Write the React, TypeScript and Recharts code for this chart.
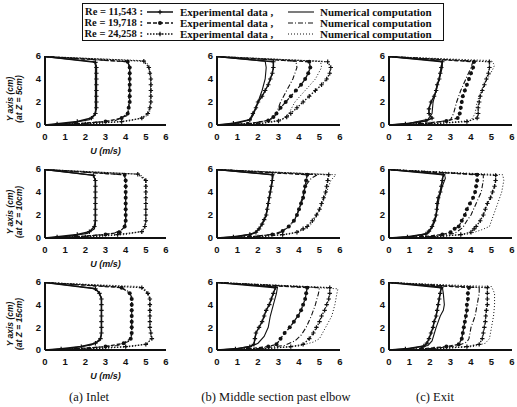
import React from 'react';
import { LineChart, Line, XAxis, YAxis } from 'recharts';

type Pt = [number, number]; // [U (m/s), Y (cm)]

const TICKS = [0, 1, 2, 3, 4, 5, 6];
const RE_LABELS = ['Re = 11,543 :', 'Re = 19,718 :', 'Re = 24,258 :'];
const Z_LABELS = ['(at Z = 5cm)', '(at Z = 10cm)', '(at Z = 15cm)'];
const CAPTIONS = ['(a) Inlet', '(b) Middle section past elbow', '(c) Exit'];

// ---- inlet, Z = 5 cm
const inlet5Exp1: Pt[] = [[0, 0], [0.6, 0.1], [1.6, 0.3], [2.3, 0.6], [2.5, 1], [2.55, 1.5], [2.55, 2], [2.55, 2.5], [2.55, 3], [2.55, 3.5], [2.55, 4], [2.55, 4.5], [2.55, 5], [2.5, 5.45], [0, 5.95]];
const inlet5Num1: Pt[] = [[0, 0], [1.2, 0.15], [2.2, 0.45], [2.45, 0.8], [2.5, 1.2], [2.5, 5.2], [2.45, 5.5], [0, 5.95]];
const inlet5Exp2: Pt[] = [[0, 0], [1.5, 0.1], [3.0, 0.3], [3.8, 0.6], [4.1, 1], [4.15, 1.5], [4.2, 2], [4.2, 2.5], [4.2, 3], [4.2, 3.5], [4.2, 4], [4.2, 4.5], [4.2, 5], [4.1, 5.5], [0, 5.95]];
const inlet5Num2: Pt[] = [[0, 0], [2.0, 0.15], [3.5, 0.4], [4.05, 0.8], [4.15, 1.2], [4.2, 5.1], [4.1, 5.5], [0, 5.95]];
const inlet5Exp3: Pt[] = [[0, 0], [2.0, 0.1], [3.8, 0.3], [4.8, 0.6], [5.1, 1], [5.2, 1.5], [5.25, 2], [5.25, 2.5], [5.25, 3], [5.25, 3.5], [5.25, 4], [5.2, 4.5], [5.15, 5], [4.9, 5.55], [0, 5.95]];
const inlet5Num3: Pt[] = [[0, 0], [2.5, 0.12], [4.2, 0.35], [5.0, 0.7], [5.2, 1.2], [5.25, 4.5], [5.1, 5.3], [4.8, 5.6], [0, 5.95]];

// ---- inlet, Z = 10 cm
const inlet10Exp1: Pt[] = [[0, 0], [0.6, 0.1], [1.6, 0.3], [2.2, 0.55], [2.45, 1], [2.5, 1.5], [2.5, 2], [2.5, 2.5], [2.5, 3], [2.5, 3.5], [2.5, 4], [2.5, 4.5], [2.5, 5], [2.4, 5.45], [0, 5.95]];
const inlet10Num1: Pt[] = [[0, 0], [1.2, 0.15], [2.1, 0.4], [2.45, 0.8], [2.5, 1.2], [2.5, 5.0], [2.4, 5.45], [0, 5.95]];
const inlet10Exp2: Pt[] = [[0, 0], [1.5, 0.1], [3.0, 0.3], [3.7, 0.5], [3.95, 1], [4.0, 1.5], [4.0, 2], [4.0, 2.5], [4.0, 3], [4.0, 3.5], [4.0, 4], [4.0, 4.5], [4.0, 5], [3.95, 5.5], [0, 5.95]];
const inlet10Num2: Pt[] = [[0, 0], [2.0, 0.15], [3.4, 0.4], [3.9, 0.8], [4.0, 1.2], [4.0, 5.1], [3.9, 5.5], [0, 5.95]];
const inlet10Exp3: Pt[] = [[0, 0], [2.0, 0.1], [3.6, 0.3], [4.8, 0.55], [4.95, 1], [5.0, 1.5], [5.0, 2], [5.0, 2.5], [5.0, 3], [5.0, 3.5], [5.0, 4], [5.0, 4.5], [5.0, 5], [4.6, 5.55], [0, 5.95]];
const inlet10Num3: Pt[] = [[0, 0], [2.5, 0.12], [4.0, 0.3], [4.85, 0.6], [5.0, 1.2], [5.0, 5.1], [4.7, 5.55], [0, 5.95]];

// ---- inlet, Z = 15 cm
const inlet15Exp1: Pt[] = [[0, 0], [0.8, 0.1], [1.8, 0.3], [2.5, 0.6], [2.75, 1], [2.8, 1.5], [2.8, 2], [2.8, 2.5], [2.8, 3], [2.8, 3.5], [2.8, 4], [2.8, 4.5], [2.7, 5], [2.5, 5.4], [0, 5.95]];
const inlet15Num1: Pt[] = [[0, 0], [1.3, 0.15], [2.3, 0.45], [2.7, 0.8], [2.8, 1.3], [2.8, 4.6], [2.65, 5.15], [2.4, 5.45], [0, 5.95]];
const inlet15Exp2: Pt[] = [[0, 0], [1.5, 0.1], [3.0, 0.3], [3.9, 0.6], [4.25, 1], [4.3, 1.5], [4.3, 2], [4.3, 2.5], [4.3, 3], [4.3, 3.5], [4.3, 4], [4.3, 4.5], [4.2, 5], [3.8, 5.5], [0, 5.95]];
const inlet15Num2: Pt[] = [[0, 0], [2.0, 0.15], [3.6, 0.4], [4.2, 0.8], [4.3, 1.3], [4.3, 4.7], [4.1, 5.2], [3.7, 5.55], [0, 5.95]];
const inlet15Exp3: Pt[] = [[0, 0], [2.2, 0.1], [4.0, 0.3], [5.0, 0.5], [5.3, 1], [5.25, 1.5], [5.2, 2], [5.2, 2.5], [5.2, 3], [5.2, 3.5], [5.2, 4], [5.2, 4.5], [5.1, 5], [4.8, 5.5], [0, 5.95]];
const inlet15Num3: Pt[] = [[0, 0], [2.6, 0.12], [4.3, 0.3], [5.1, 0.55], [5.25, 1.1], [5.2, 4.6], [5.0, 5.3], [4.7, 5.6], [0, 5.95]];

// ---- middle section past elbow, Z = 5 cm
const mid5Exp1: Pt[] = [[0, 0], [0.8, 0.15], [1.6, 0.45], [1.75, 1], [1.9, 1.5], [2.0, 2], [2.2, 2.5], [2.35, 3], [2.5, 3.5], [2.6, 4], [2.7, 4.5], [2.75, 5], [2.75, 5.5], [0, 5.95]];
const mid5Num1: Pt[] = [[0, 0], [1.0, 0.15], [1.65, 0.5], [1.8, 1], [2.0, 2], [2.2, 3], [2.35, 4], [2.4, 5], [2.35, 5.55], [0, 5.95]];
const mid5Exp2: Pt[] = [[0, 0], [1.5, 0.1], [2.5, 0.4], [2.75, 0.7], [2.9, 1], [3.1, 1.5], [3.35, 2], [3.6, 2.5], [3.85, 3], [4.1, 3.5], [4.3, 4], [4.45, 4.5], [4.55, 5], [4.5, 5.5], [0, 5.95]];
const mid5Num2: Pt[] = [[0, 0], [1.8, 0.15], [2.7, 0.5], [2.9, 1], [3.1, 2], [3.4, 3], [3.7, 4], [3.9, 5], [3.85, 5.55], [0, 5.95]];
const mid5Exp3: Pt[] = [[0, 0], [2.0, 0.1], [3.0, 0.35], [3.4, 0.7], [3.6, 1], [3.9, 1.5], [4.2, 2], [4.5, 2.5], [4.8, 3], [5.1, 3.5], [5.35, 4], [5.5, 4.5], [5.55, 5], [5.4, 5.5], [0, 5.95]];
const mid5Num3: Pt[] = [[0, 0], [2.2, 0.15], [3.2, 0.5], [3.5, 1], [3.8, 2], [4.3, 3], [4.8, 4], [5.1, 5], [5.05, 5.55], [0, 5.95]];

// ---- middle section past elbow, Z = 10 cm
const mid10Exp1: Pt[] = [[0, 0], [0.8, 0.1], [1.6, 0.3], [1.9, 0.5], [2.05, 0.8], [2.2, 1.2], [2.3, 1.6], [2.4, 2], [2.45, 2.5], [2.5, 3], [2.55, 3.5], [2.6, 4], [2.65, 4.5], [2.7, 5], [2.7, 5.5], [0, 5.95]];
const mid10Num1: Pt[] = [[0, 0], [1.0, 0.12], [1.8, 0.4], [2.0, 0.7], [2.2, 1.2], [2.4, 2], [2.5, 3], [2.6, 4], [2.7, 5], [2.75, 5.5], [0, 5.95]];
const mid10Exp2: Pt[] = [[0, 0], [1.6, 0.1], [2.7, 0.3], [3.2, 0.6], [3.5, 1], [3.75, 1.5], [3.9, 2], [4.0, 2.5], [4.1, 3], [4.2, 3.5], [4.25, 4], [4.3, 4.5], [4.35, 5], [4.4, 5.5], [0, 5.95]];
const mid10Num2: Pt[] = [[0, 0], [1.8, 0.12], [3.0, 0.4], [3.45, 0.9], [3.8, 1.6], [4.0, 2.5], [4.15, 3.5], [4.3, 4.5], [4.6, 5.2], [4.9, 5.5], [0, 5.95]];
const mid10Exp3: Pt[] = [[0, 0], [2.0, 0.1], [3.2, 0.3], [3.9, 0.5], [4.2, 0.8], [4.4, 1], [4.65, 1.5], [4.85, 2], [5.0, 2.5], [5.1, 3], [5.2, 3.5], [5.3, 4], [5.35, 4.5], [5.4, 5], [5.45, 5.5], [0, 5.95]];
const mid10Num3: Pt[] = [[0, 0], [2.2, 0.12], [3.6, 0.35], [4.2, 0.7], [4.6, 1.2], [4.9, 2], [5.15, 3], [5.35, 4], [5.55, 5], [5.8, 5.5], [0, 5.95]];

// ---- middle section past elbow, Z = 15 cm
const mid15Exp1: Pt[] = [[0, 0], [0.9, 0.1], [1.6, 0.3], [1.8, 0.5], [1.85, 1], [1.9, 1.5], [2.05, 2], [2.2, 2.5], [2.3, 3], [2.4, 3.5], [2.55, 4], [2.65, 4.5], [2.75, 5], [2.85, 5.5], [0, 5.95]];
const mid15Num1: Pt[] = [[0, 0], [1.0, 0.12], [1.7, 0.35], [2.0, 0.6], [2.3, 1.2], [2.5, 2], [2.6, 3], [2.75, 4], [2.9, 5], [2.95, 5.55], [0, 5.95]];
const mid15Exp2: Pt[] = [[0, 0], [1.5, 0.1], [2.5, 0.3], [2.9, 0.5], [3.1, 1], [3.3, 1.5], [3.55, 2], [3.75, 2.5], [3.95, 3], [4.1, 3.5], [4.2, 4], [4.3, 4.5], [4.35, 5], [4.4, 5.5], [0, 5.95]];
const mid15Num2: Pt[] = [[0, 0], [2.0, 0.12], [3.3, 0.4], [3.8, 0.8], [4.1, 1.3], [4.35, 2], [4.6, 3], [4.8, 4], [4.95, 5], [5.0, 5.5], [0, 5.95]];
const mid15Exp3: Pt[] = [[0, 0], [2.2, 0.1], [3.6, 0.3], [4.2, 0.5], [4.5, 1], [4.7, 1.5], [4.85, 2], [5.0, 2.5], [5.1, 3], [5.25, 3.5], [5.35, 4], [5.45, 4.5], [5.5, 5], [5.5, 5.5], [0, 5.95]];
const mid15Num3: Pt[] = [[0, 0], [2.5, 0.12], [4.0, 0.35], [4.7, 0.7], [5.0, 1], [5.3, 2], [5.6, 3], [5.75, 4], [5.85, 5], [5.9, 5.4], [0, 5.95]];

// ---- exit, Z = 5 cm
const exit5Exp1: Pt[] = [[0, 0], [0.8, 0.1], [1.8, 0.35], [2.1, 0.6], [1.95, 1], [1.95, 1.4], [2.05, 2], [2.2, 2.5], [2.3, 3], [2.35, 3.5], [2.45, 4], [2.5, 4.5], [2.55, 5], [2.6, 5.5], [0, 5.95]];
const exit5Num1: Pt[] = [[0, 0], [1.0, 0.15], [1.9, 0.5], [2.1, 1], [2.15, 2], [2.3, 3], [2.45, 4], [2.6, 5], [2.6, 5.55], [0, 5.95]];
const exit5Exp2: Pt[] = [[0, 0], [1.5, 0.1], [2.8, 0.35], [3.35, 0.6], [3.45, 1], [3.5, 1.5], [3.55, 2], [3.6, 2.5], [3.7, 3], [3.8, 3.5], [3.9, 4], [4.0, 4.5], [4.1, 5], [4.15, 5.5], [0, 5.95]];
const exit5Num2: Pt[] = [[0, 0], [2.0, 0.15], [3.0, 0.45], [3.15, 1], [3.3, 2], [3.5, 3], [3.75, 4], [4.0, 5], [4.1, 5.55], [0, 5.95]];
const exit5Exp3: Pt[] = [[0, 0], [2.0, 0.1], [3.8, 0.3], [4.3, 0.6], [4.35, 1], [4.35, 1.5], [4.4, 2], [4.45, 2.5], [4.55, 3], [4.65, 3.5], [4.75, 4], [4.85, 4.5], [4.9, 5], [4.9, 5.5], [0, 5.95]];
const exit5Num3: Pt[] = [[0, 0], [2.5, 0.15], [4.0, 0.4], [4.2, 1], [4.3, 2], [4.5, 3], [4.8, 4], [5.05, 4.8], [5.15, 5.2], [5.0, 5.6], [0, 5.95]];

// ---- exit, Z = 10 cm
const exit10Exp1: Pt[] = [[0, 0], [0.9, 0.1], [1.8, 0.35], [1.95, 0.6], [2.1, 1], [2.2, 1.5], [2.3, 2], [2.33, 2.5], [2.35, 3], [2.4, 3.5], [2.5, 4], [2.55, 4.5], [2.6, 5], [2.65, 5.5], [0, 5.95]];
const exit10Num1: Pt[] = [[0, 0], [1.1, 0.12], [1.9, 0.4], [2.1, 0.9], [2.25, 1.5], [2.35, 2.5], [2.45, 3.5], [2.6, 4.5], [2.75, 5.2], [2.7, 5.55], [0, 5.95]];
const exit10Exp2: Pt[] = [[0, 0], [1.6, 0.1], [2.6, 0.3], [3.0, 0.5], [3.2, 0.8], [3.4, 1], [3.55, 1.5], [3.7, 2], [3.8, 2.5], [3.95, 3], [4.1, 3.5], [4.2, 4], [4.25, 4.5], [4.3, 5], [4.3, 5.5], [0, 5.95]];
const exit10Num2: Pt[] = [[0, 0], [2.0, 0.12], [3.2, 0.4], [3.6, 0.9], [3.8, 1.5], [4.0, 2], [4.25, 3], [4.5, 4], [4.6, 5], [4.6, 5.5], [0, 5.95]];
const exit10Exp3: Pt[] = [[0, 0], [2.2, 0.1], [3.5, 0.3], [4.0, 0.5], [4.15, 0.8], [4.25, 1], [4.45, 1.5], [4.6, 2], [4.7, 2.5], [4.8, 3], [4.95, 3.5], [5.05, 4], [5.15, 4.5], [5.2, 5], [5.2, 5.45], [0, 5.95]];
const exit10Num3: Pt[] = [[0, 0], [2.5, 0.12], [3.9, 0.35], [4.5, 0.7], [4.9, 1], [5.1, 2], [5.3, 3], [5.5, 4], [5.6, 5], [5.55, 5.5], [0, 5.95]];

// ---- exit, Z = 15 cm
const exit15Exp1: Pt[] = [[0, 0], [0.8, 0.1], [1.7, 0.35], [1.85, 0.6], [1.95, 1], [2.05, 1.5], [2.15, 2], [2.2, 2.5], [2.3, 3], [2.35, 3.5], [2.4, 4], [2.45, 4.5], [2.5, 5], [2.55, 5.5], [0, 5.95]];
const exit15Num1: Pt[] = [[0, 0], [1.0, 0.12], [1.9, 0.4], [2.1, 0.8], [2.3, 2], [2.5, 3], [2.65, 3.5], [2.7, 4], [2.65, 5], [2.6, 5.55], [0, 5.95]];
const exit15Exp2: Pt[] = [[0, 0], [1.6, 0.1], [2.8, 0.3], [3.4, 0.5], [3.55, 1], [3.6, 1.5], [3.65, 2], [3.7, 2.5], [3.75, 3], [3.8, 3.5], [3.8, 4], [3.85, 4.5], [3.85, 5], [3.9, 5.5], [0, 5.95]];
const exit15Num2: Pt[] = [[0, 0], [2.0, 0.12], [3.3, 0.35], [3.8, 0.7], [3.9, 1], [4.0, 2], [4.2, 3], [4.3, 4], [4.4, 5], [4.4, 5.5], [0, 5.95]];
const exit15Exp3: Pt[] = [[0, 0], [2.2, 0.1], [3.8, 0.3], [4.4, 0.5], [4.55, 1], [4.6, 1.5], [4.65, 2], [4.7, 2.5], [4.72, 3], [4.75, 3.5], [4.8, 4], [4.8, 4.5], [4.8, 5], [4.8, 5.5], [0, 5.95]];
const exit15Num3: Pt[] = [[0, 0], [2.5, 0.12], [4.1, 0.3], [4.7, 0.6], [4.9, 1], [5.0, 2], [5.1, 3], [5.15, 4], [5.15, 5], [5.0, 5.6], [0, 5.95]];

// panel grid: rows are Z = 5 / 10 / 15 cm, columns are inlet / middle / exit
const PANELS: Pt[][][][] = [
  [
    [inlet5Exp1, inlet5Num1, inlet5Exp2, inlet5Num2, inlet5Exp3, inlet5Num3],
    [mid5Exp1, mid5Num1, mid5Exp2, mid5Num2, mid5Exp3, mid5Num3],
    [exit5Exp1, exit5Num1, exit5Exp2, exit5Num2, exit5Exp3, exit5Num3],
  ],
  [
    [inlet10Exp1, inlet10Num1, inlet10Exp2, inlet10Num2, inlet10Exp3, inlet10Num3],
    [mid10Exp1, mid10Num1, mid10Exp2, mid10Num2, mid10Exp3, mid10Num3],
    [exit10Exp1, exit10Num1, exit10Exp2, exit10Num2, exit10Exp3, exit10Num3],
  ],
  [
    [inlet15Exp1, inlet15Num1, inlet15Exp2, inlet15Num2, inlet15Exp3, inlet15Num3],
    [mid15Exp1, mid15Num1, mid15Exp2, mid15Num2, mid15Exp3, mid15Num3],
    [exit15Exp1, exit15Num1, exit15Exp2, exit15Num2, exit15Exp3, exit15Num3],
  ],
];

const INK = '#111';

// line style for each series, in the order exp1, num1, exp2, num2, exp3, num3
const STYLES = [
  { width: 1.5, dash: undefined, marker: 'plus' },
  { width: 1.1, dash: undefined, marker: null },
  { width: 1.3, dash: '4 2', marker: 'dot' },
  { width: 1.1, dash: '5 2 1 2', marker: null },
  { width: 1.3, dash: '1.5 1.5', marker: 'plus' },
  { width: 1.0, dash: '1 2', marker: null },
];

const COLS = [
  { left: 0, yw: 45, plotW: 121 },
  { left: 187, yw: 30, plotW: 123 },
  { left: 359, yw: 30, plotW: 123 },
];
const ROWS = [
  { plotTop: 56, plotH: 69 },
  { plotTop: 169, plotH: 69 },
  { plotTop: 282, plotH: 68 },
];

const tickStyle = { fill: INK, fontSize: 9.5, fontWeight: 700, fontFamily: 'Liberation Sans, Arial, sans-serif' };

const makeMarker = (kind: string) => (props: any) => {
  const { cx, cy, payload, index } = props;
  if (!payload || payload.u === 0 || cx == null || cy == null) return <g key={`m-${index}`} />;
  if (kind === 'dot') {
    return <circle key={`m-${index}`} cx={cx} cy={cy} r={2} fill={INK} stroke="none" />;
  }
  return (
    <path
      key={`m-${index}`}
      d={`M${cx - 2.2},${cy}h4.4M${cx},${cy - 2.2}v4.4`}
      stroke={INK}
      strokeWidth={1.2}
      fill="none"
    />
  );
};

const Panel = ({ row, col }: { row: number; col: number }) => {
  const c = COLS[col];
  const r = ROWS[row];
  const xh = 34;
  const width = c.yw + c.plotW + 6;
  const height = 6 + r.plotH + xh;
  const series = PANELS[row][col];
  return (
    <div style={{ position: 'absolute', left: c.left, top: r.plotTop - 6 }}>
      <LineChart width={width} height={height} margin={{ top: 6, right: 6, left: 0, bottom: 0 }}>
        <XAxis
          type="number"
          dataKey="u"
          domain={[0, 6]}
          ticks={TICKS}
          allowDataOverflow
          height={xh}
          tickSize={0}
          tickMargin={8}
          tick={tickStyle}
          axisLine={{ stroke: INK, strokeWidth: 2 }}
          label={
            col === 0
              ? {
                  value: 'U (m/s)',
                  position: 'insideBottom',
                  offset: 5,
                  style: { fill: INK, fontSize: 9, fontWeight: 700, fontStyle: 'italic', fontFamily: 'Liberation Sans, Arial, sans-serif' },
                }
              : undefined
          }
        />
        <YAxis
          type="number"
          domain={[0, 6]}
          ticks={TICKS}
          allowDataOverflow
          width={c.yw}
          tickSize={0}
          tickMargin={4}
          tick={tickStyle}
          axisLine={{ stroke: INK, strokeWidth: 2 }}
        />
        {series.map((pts, i) => {
          const s = STYLES[i];
          return (
            <Line
              key={i}
              data={pts.map(([u, y]) => ({ u, y }))}
              dataKey="y"
              type="linear"
              stroke={INK}
              strokeWidth={s.width}
              strokeDasharray={s.dash}
              dot={s.marker ? makeMarker(s.marker) : false}
              activeDot={false}
              isAnimationActive={false}
            />
          );
        })}
      </LineChart>
    </div>
  );
};

const yTitleStyle: React.CSSProperties = {
  position: 'absolute',
  transform: 'translate(-50%, -50%) rotate(-90deg)',
  whiteSpace: 'nowrap',
  fontFamily: 'Liberation Sans, Arial, sans-serif',
  fontWeight: 700,
  fontStyle: 'italic',
  fontSize: 8.5,
  color: INK,
  lineHeight: 1,
};

// small line samples used in the key
const KeySample = ({ idx }: { idx: number }) => {
  const s = STYLES[idx];
  return (
    <svg width={26} height={8} style={{ position: 'absolute', top: -4 }}>
      <line x1={0} y1={4} x2={26} y2={4} stroke={INK} strokeWidth={s.width} strokeDasharray={s.dash} />
      {s.marker === 'plus' && <path d="M13,1.8v4.4M10.8,4h4.4" stroke={INK} strokeWidth={1.2} />}
      {s.marker === 'dot' && <circle cx={13} cy={4} r={2} fill={INK} />}
    </svg>
  );
};

const legendText: React.CSSProperties = {
  position: 'absolute',
  fontFamily: 'Liberation Serif, Times New Roman, serif',
  fontWeight: 700,
  fontSize: 11,
  color: INK,
  whiteSpace: 'nowrap',
  lineHeight: 1,
  transform: 'translateY(-50%)',
};

const Key = () => {
  const rowsY = [12, 23, 34];
  return (
    <div>
      <div
        style={{
          position: 'absolute',
          left: 82,
          top: 3,
          width: 362,
          height: 38,
          border: `1.5px solid ${INK}`,
          boxSizing: 'border-box',
        }}
      />
      {rowsY.map((y, k) => (
        <React.Fragment key={k}>
          <div style={{ ...legendText, fontSize: 10.5, right: 517 - 143, top: y }}>{RE_LABELS[k]}</div>
          <div style={{ position: 'absolute', left: 147, top: y }}>
            <KeySample idx={k * 2} />
          </div>
          <div style={{ ...legendText, left: 180, top: y }}>Experimental data ,</div>
          <div style={{ position: 'absolute', left: 288, top: y }}>
            <KeySample idx={k * 2 + 1} />
          </div>
          <div style={{ ...legendText, left: 320, top: y }}>Numerical computation</div>
        </React.Fragment>
      ))}
    </div>
  );
};

export default function App() {
  const captionX = [89, 276, 435];
  return (
    <div style={{ position: 'absolute', left: 0, top: 0, width: 517, height: 407, background: '#fff', overflow: 'hidden' }}>
      <Key />
      {[0, 1, 2].map((row) =>
        [0, 1, 2].map((col) => <Panel key={`${row}-${col}`} row={row} col={col} />)
      )}
      {ROWS.map((r, k) => {
        const cy = r.plotTop + r.plotH / 2 + 8;
        return (
          <React.Fragment key={k}>
            <div style={{ ...yTitleStyle, left: 10, top: cy }}>Y axis (cm)</div>
            <div style={{ ...yTitleStyle, left: 19, top: cy }}>{Z_LABELS[k]}</div>
          </React.Fragment>
        );
      })}
      {CAPTIONS.map((t, k) => (
        <div
          key={k}
          style={{
            position: 'absolute',
            left: captionX[k],
            top: 397,
            transform: 'translate(-50%, -50%)',
            whiteSpace: 'nowrap',
            fontFamily: 'Liberation Serif, Times New Roman, serif',
            fontSize: 12.5,
            color: INK,
            lineHeight: 1,
          }}
        >
          {t}
        </div>
      ))}
    </div>
  );
}
